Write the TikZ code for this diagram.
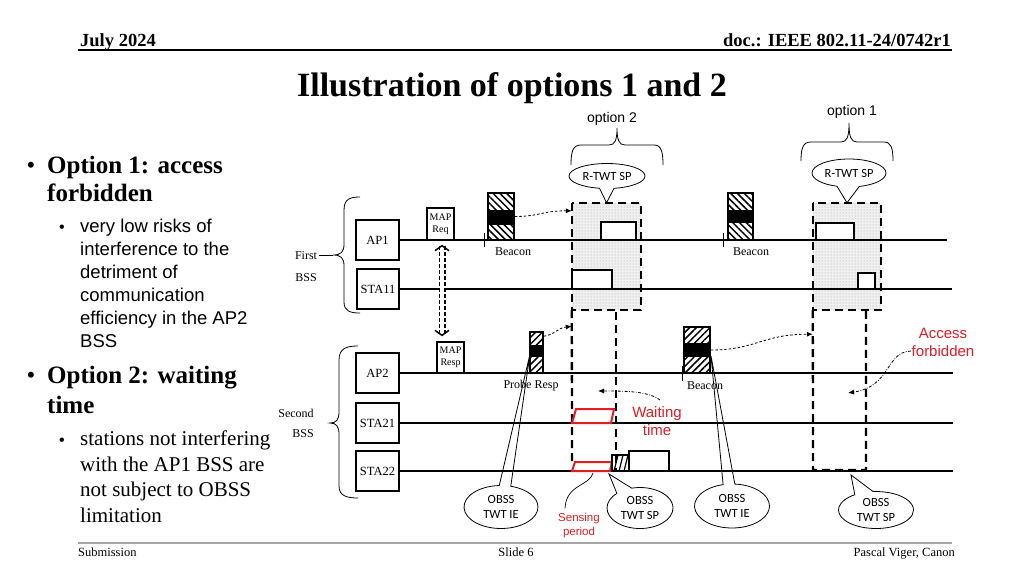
\documentclass[tikz,border=0pt]{standalone}
\usepackage{fontspec}
\setmainfont{Liberation Serif}
\newfontfamily\arial{Liberation Sans}
\newfontfamily\calibri{Carlito}
\usetikzlibrary{shapes.callouts,shapes.geometric,patterns,patterns.meta,arrows.meta,calc}
\definecolor{ired}{RGB}{228,28,36}
\newcommand\mkblock[7]{%
  \fill[pattern={Lines[angle=#7,distance=4.8pt,line width=1.5pt]}] (#1,#3) rectangle (#2,#6);
  \fill[black] (#1,#4) rectangle (#2,#5);}
\begin{document}
\begin{tikzpicture}[x=1pt,y=-1pt,
 stabox/.style={draw,line width=1.8pt,minimum width=43pt,minimum height=40pt,inner sep=0pt,font=\fontsize{12.5}{14}\selectfont},
 tline/.style={line width=1.4pt},
 frm/.style={draw,line width=1.8pt,fill=white},
 optdash/.style={line width=2.3pt,dash pattern=on 8pt off 5pt},
 dasharr/.style={line width=0.8pt,dash pattern=on 2.5pt off 2pt,-{Latex[length=6pt,width=5pt]}},
 dotarr/.style={line width=0.8pt,dash pattern=on 3pt off 1.5pt on 0.8pt off 1.5pt,-{Latex[length=6pt,width=5pt]}},
 blk/.style={draw,line width=1.5pt,inner sep=0pt},
 lbl/.style={font=\fontsize{12}{14}\selectfont,inner sep=0pt},
 bubble/.style={ellipse callout,draw,line width=0.8pt,inner sep=0pt,align=center,font=\calibri\fontsize{12.5}{15}\selectfont},
 redtxt/.style={text=ired,font=\arial\fontsize{15}{18}\selectfont,align=center,inner sep=0pt},
 hdr/.style={font=\bfseries\fontsize{18.5}{20}\selectfont,inner sep=0pt},
 foot/.style={font=\fontsize{12.5}{14}\selectfont,inner sep=0pt},
 bigb/.style={font=\bfseries\fontsize{25}{28}\selectfont,inner sep=0pt,anchor=base west},
 subA/.style={font=\arial\fontsize{18.5}{22}\selectfont,inner sep=0pt,anchor=base west},
 subT/.style={font=\fontsize{21}{24}\selectfont,inner sep=0pt,anchor=base west},
 optlbl/.style={font=\arial\fontsize{14}{16}\selectfont,inner sep=0pt},
]
\useasboundingbox (0,0) rectangle (1024,576);
\fill[white] (0,0) rectangle (1024,576);

% header
\node[hdr,anchor=base west] (date) at (80,46) {July 2024};
\node[hdr,anchor=base east] (doc) at (951,46) {doc.: IEEE 802.11-24/0742r1};
\draw[line width=1.5pt] (78,50) -- (952,50);
\node[font=\bfseries\fontsize{34}{38}\selectfont,inner sep=0pt,anchor=base] (title) at (512,96) {Illustration of options 1 and 2};

% footer
\draw[gray!70,line width=1.5pt] (78,543) -- (952,543);
\node[foot,anchor=base west] (sub) at (78,556) {Submission};
\node[foot,anchor=base] (slide) at (516,556) {Slide 6};
\node[foot,anchor=base east] (auth) at (955,556) {Pascal Viger, Canon};

% left text
\node[font=\arial\fontsize{22}{24}\selectfont,inner sep=0pt,anchor=base west] (b1) at (27,172) {•};
\node[bigb] (t1) at (47,173) {Option 1: access};
\node[bigb] (t2) at (47,201) {forbidden};
\node[font=\arial\fontsize{16}{18}\selectfont,inner sep=0pt,anchor=base west] (b2) at (59,232) {•};
\node[subA] (t3) at (80,232) {very low risks of};
\node[subA] (t4) at (80,255) {interference to the};
\node[subA] (t5) at (80,278) {detriment of};
\node[subA] (t6) at (80,301) {communication};
\node[subA] (t7) at (80,324) {efficiency in the AP2};
\node[subA] (t8) at (80,347) {BSS};
\node[font=\arial\fontsize{22}{24}\selectfont,inner sep=0pt,anchor=base west] (b3) at (27,382) {•};
\node[bigb] (t9) at (47,383) {Option 2: waiting};
\node[bigb] (t10) at (47,413) {time};
\node[font=\arial\fontsize{16}{18}\selectfont,inner sep=0pt,anchor=base west] (b4) at (59,445) {•};
\node[subT] (t11) at (80,445) {stations not interfering};
\node[subT] (t12) at (80,471) {with the AP1 BSS are};
\node[subT] (t13) at (80,496) {not subject to OBSS};
\node[subT] (t14) at (80,522) {limitation};

% option areas (fill first)
\node[minimum width=69pt,minimum height=107pt,inner sep=0pt] (sp2) at (606.5,256.5) {};
\node[minimum width=68pt,minimum height=107pt,inner sep=0pt] (sp1) at (847,256.5) {};
\fill[gray!12] (sp2.south west) rectangle (sp2.north east);
\fill[pattern=dots,pattern color=gray!70] (sp2.south west) rectangle (sp2.north east);
\fill[gray!12] (sp1.south west) rectangle (sp1.north east);
\fill[pattern=dots,pattern color=gray!70] (sp1.south west) rectangle (sp1.north east);

% stations
\node[stabox] (ap1) at (377.5,240) {AP1};
\node[stabox,minimum width=42pt] (sta11) at (378,289) {STA11};
\node[stabox] (ap2) at (377.5,373) {AP2};
\node[stabox] (sta21) at (377.5,423) {STA21};
\node[stabox] (sta22) at (377.5,471) {STA22};
\coordinate (e1) at (947,240);
\coordinate (e2) at (952,289);
\coordinate (e3) at (953,373);
\coordinate (e4) at (953,423);
\coordinate (e5) at (953,471);
\draw[tline] (ap1.east) -- (e1);
\draw[tline] (sta11.east) -- (e2);
\draw[tline] (ap2.east) -- (e3);
\draw[tline] (sta21.east) -- (e4);
\draw[tline] (sta22.east) -- (e5);

% braces
\draw[line width=0.8pt] (360,197) .. controls (350,197) and (344,199) .. (344,210) -- (344,244) .. controls (344,252) and (341,255) .. (333,255) .. controls (341,255) and (344,258) .. (344,266) -- (344,302) .. controls (344,311) and (350,313) .. (360,313);
\draw[line width=0.8pt] (319,255) -- (333,255);
\node[lbl] (first) at (306,256) {First};
\node[lbl] (bss1) at (306,278) {BSS};
\draw[line width=0.8pt] (358,346) .. controls (347,346) and (339,348) .. (339,360) -- (339,412) .. controls (339,420) and (336,423) .. (330,423) .. controls (336,423) and (339,426) .. (339,434) -- (339,486) .. controls (339,496) and (347,498) .. (358,498);
\node[lbl] (second) at (296,413) {Second};
\node[lbl] (bss2) at (303,434) {BSS};

% option braces
\draw[line width=0.8pt] (571,165) .. controls (571,151) and (573,145) .. (581,145) -- (609,145) .. controls (615,145) and (617,140) .. (617,128) .. controls (617,140) and (619,145) .. (625,145) -- (654,145) .. controls (661,145) and (663,151) .. (663,165);
\node[optlbl] (o2) at (612,119) {option 2};
\draw[line width=0.8pt] (801,161) .. controls (801,148) and (803,142) .. (811,142) -- (841,142) .. controls (847,142) and (849,137) .. (849,123) .. controls (849,137) and (851,142) .. (857,142) -- (884,142) .. controls (891,142) and (893,148) .. (893,161);
\node[optlbl] (o1) at (852,112) {option 1};

% MAP frames
\node[blk,minimum width=27pt,minimum height=32pt,fill=white,align=center,font=\fontsize{10}{12}\selectfont] (mapreq) at (440.5,224) {MAP\\Req};
\node[blk,minimum width=27pt,minimum height=31pt,fill=white,align=center,font=\fontsize{10}{12}\selectfont] (mapresp) at (450.5,357.5) {MAP\\Resp};
\draw[dash pattern=on 4pt off 2pt,line width=1.5pt,double,double distance=4pt,{Straight Barb[length=5pt,width=14pt,line width=1.5pt]}-{Straight Barb[length=5pt,width=14pt,line width=1.5pt]}] ($(mapreq.south)+(1.5,4)$) -- ($(mapresp.north)+(-8.5,-5)$);

% beacons AP1
\mkblock{488}{514}{193}{210}{225}{240}{-45}
\node[blk,minimum width=26pt,minimum height=47pt] (bcn1) at (501,216.5) {};
\draw[line width=1pt] (484,233) -- (484,247);
\node[lbl] (bl1) at (513,252) {Beacon};
\mkblock{728}{753}{193}{210}{223}{240}{-45}
\node[blk,minimum width=25pt,minimum height=47pt] (bcn2) at (740.5,216.5) {};
\draw[line width=1pt] (723,233) -- (723,247);
\node[lbl] (bl2) at (751,252) {Beacon};

% AP2 blocks
\mkblock{530}{543}{332}{345}{357}{373}{45}
\node[blk,minimum width=13pt,minimum height=41pt] (prb) at (536.5,352.5) {};
\node[lbl] (pl) at (531,386) {Probe Resp};
\mkblock{684}{710}{327}{343}{357}{373}{45}
\node[blk,minimum width=26pt,minimum height=46pt] (bcn3) at (697,350) {};
\draw[line width=1pt] (682,366) -- (682,381);
\node[lbl] (bl3) at (705,386) {Beacon};

% frames in option 2 / option 1
\node[frm,minimum width=35pt,minimum height=18pt,inner sep=0pt] (f1) at (618.5,231) {};
\node[frm,minimum width=40pt,minimum height=19pt,inner sep=0pt] (f2) at (592,279.5) {};
\node[frm,minimum width=38pt,minimum height=17pt,inner sep=0pt] (f3) at (835,231.5) {};
\node[frm,minimum width=17pt,minimum height=16pt,inner sep=0pt] (f4) at (866.5,281) {};

% dashed option borders
\draw[optdash] (sp2.north west) rectangle (sp2.south east);
\draw[optdash] (sp2.south west) -- (572,466);
\draw[optdash] (616,312) -- (616,471);
\draw[optdash] (sp1.north west) rectangle (sp1.south east);
\draw[optdash] (sp1.south west) -- (813,470) -- (866,470) -- (866,310);

% red windows
\draw[ired,line width=2pt,fill=white] (572,423) -- (576,409) -- (614,409) -- (611,423) -- cycle;
\draw[ired,line width=2pt,fill=white] (572,471) -- (575,462) -- (612,462) -- (610,471) -- cycle;
\draw[line width=1.5pt] (612,455) rectangle (629,471);
\draw[line width=1.2pt] (614,471) -- (618,455) (619,471) -- (623,455) (624,471) -- (628,455);
\node[frm,minimum width=40pt,minimum height=20pt,inner sep=0pt] (f5) at (649,461) {};

% dashed arrows
\draw[dasharr] (bcn1.east) .. controls +(25,0) and +(-30,0) .. ($(sp2.north west)+(0,8)$);
\draw[dasharr] ($(prb.north east)+(0,5)$) .. controls +(12,-2) and +(-15,2) .. ($(sp2.south west)+(0,16)$);
\draw[dasharr] (bcn3.east) .. controls +(45,0) and +(-50,0) .. ($(sp1.south west)+(0,24)$);

% red labels
\node[redtxt] (acc) at (943,342) {Access\\forbidden};
\node[redtxt] (wait) at (657,421.5) {Waiting\\time};
\node[redtxt,font=\arial\fontsize{11.5}{14}\selectfont] (sens) at (579,526) {Sensing\\period};
\coordinate (accs) at (911,351);
\coordinate (accend) at (848,393);
\draw[dotarr] (accs) .. controls (885,352) and (892,386) .. (accend);
\coordinate (waits) at (660,400);
\coordinate (waitend) at (598,391);
\draw[dotarr] (waits) .. controls (648,391) and (625,391) .. (waitend);
\coordinate (sensa) at (593,473);
\draw[line width=0.7pt] (sensa) .. controls (590,486) and (566,484) .. ($(sens.north)+(-14,-5)$);

% callouts
\node[bubble,minimum width=76pt,minimum height=25pt,callout absolute pointer={(sp2.north)},callout pointer arc=22] (rt2) at (607,176) {R-TWT SP};
\node[bubble,minimum width=74pt,minimum height=28pt,callout absolute pointer={(sp1.north)},callout pointer arc=35] (rt1) at (849,173) {R-TWT SP};
\node[bubble,minimum width=74pt,minimum height=43pt,callout absolute pointer={(530,354)},callout pointer arc=18] (ie1) at (501,507) {OBSS\\TWT IE};
\node[bubble,minimum width=66pt,minimum height=41pt,callout absolute pointer={(609,474)},callout pointer arc=30] (sp2c) at (640,508) {OBSS\\TWT SP};
\node[bubble,minimum width=75pt,minimum height=44pt,callout absolute pointer={(711,356)},callout pointer arc=18] (ie2) at (732,506) {OBSS\\TWT IE};
\node[bubble,minimum width=75pt,minimum height=37pt,callout absolute pointer={(851,475)},callout pointer arc=30] (sp1c) at (876,510) {OBSS\\TWT SP};
\end{tikzpicture}
\end{document}
